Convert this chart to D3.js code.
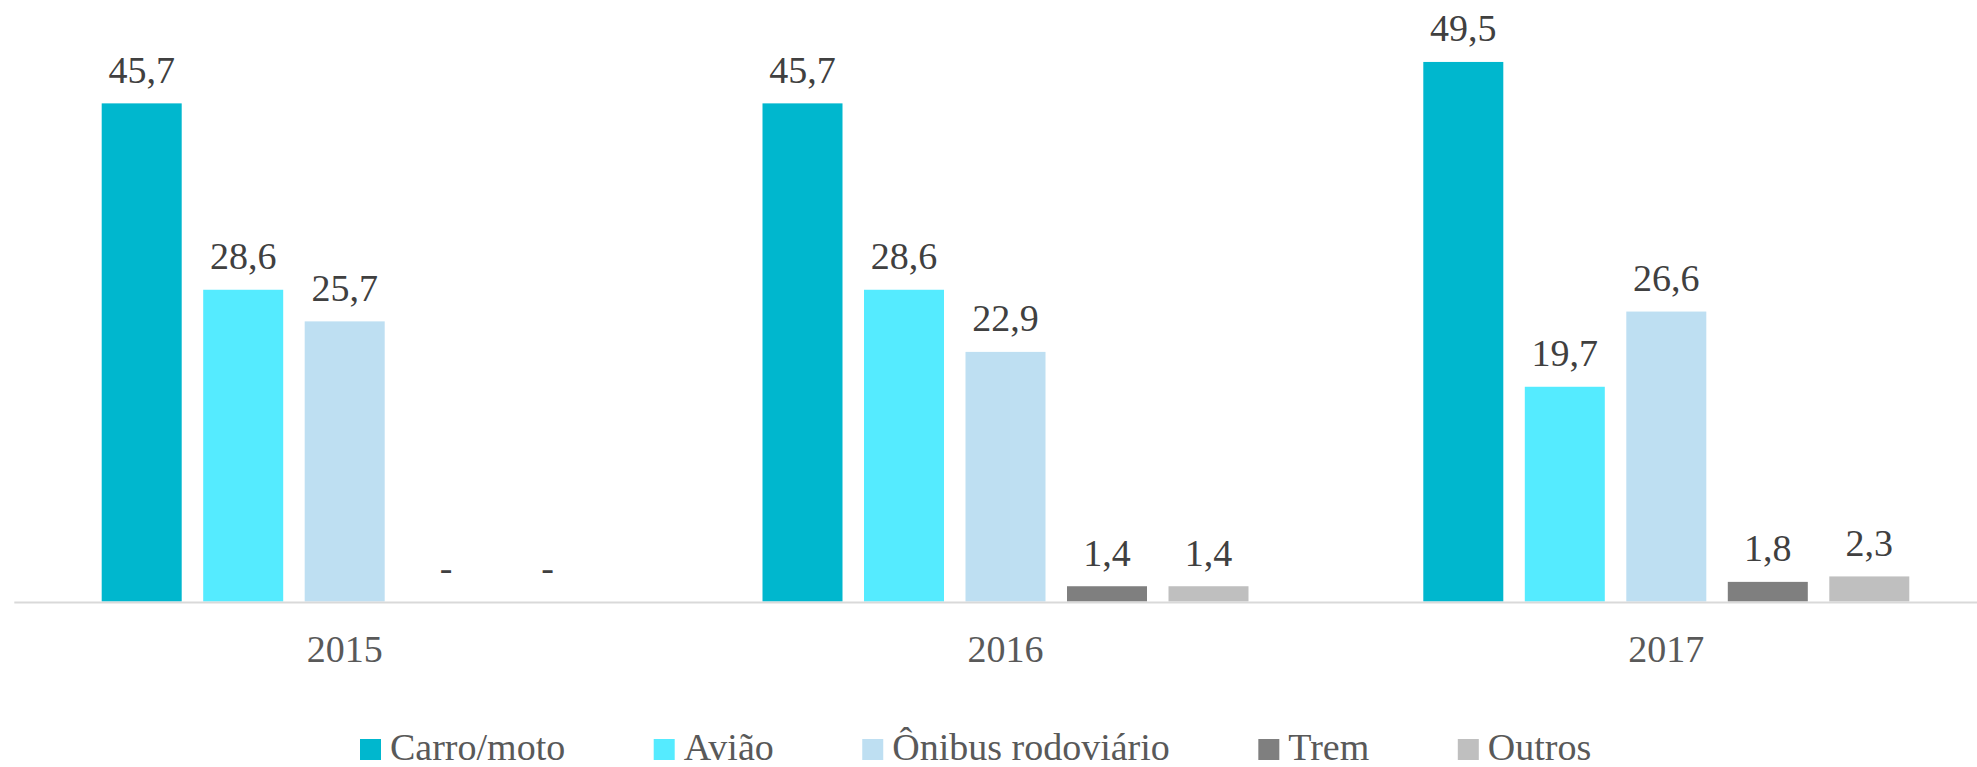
<!DOCTYPE html>
<html>
<head>
<meta charset="utf-8">
<script src="https://cdn.jsdelivr.net/npm/d3@7"></script>
<style>
  html, body { margin: 0; padding: 0; background: #ffffff; }
  svg { display: block; }
</style>
</head>
<body>
<svg id="chart" width="1977" height="767"></svg>
<script>
const categories = ["2015", "2016", "2017"];
const seriesNames = ["Carro/moto", "Avião", "Ônibus rodoviário", "Trem", "Outros"];
const carroMoto = [45.7, 45.7, 49.5];
const aviao = [28.6, 28.6, 19.7];
const onibus = [25.7, 22.9, 26.6];
const trem = [0, 1.4, 1.8];
const outros = [0, 1.4, 2.3];
const seriesColors = ["#00B7CE", "#55EBFF", "#BEDFF2", "#7F7F7F", "#BFBFBF"];

const seriesValues = [carroMoto, aviao, onibus, trem, outros];
const data = categories.map((c, i) => ({
  category: c,
  values: seriesNames.map((s, j) => ({ series: s, value: seriesValues[j][i], color: seriesColors[j] }))
}));

const svg = d3.select("#chart");
const W = 1977, H = 767;
const baseline = 601.5;
const FONT = "'Liberation Serif', 'Times New Roman', serif";

const x0 = d3.scaleBand().domain(categories).range([14.3, 1996.7]).padding(0);
const groupW = 486;
const inset = (x0.bandwidth() - groupW) / 2;
const x1 = d3.scaleBand().domain(seriesNames)
  .range([inset, inset + groupW]).paddingInner(21.5 / 101.5).paddingOuter(0);
const y = d3.scaleLinear().domain([0, 50]).range([baseline, baseline - 50 * 10.9]);

// bars
const groups = svg.append("g").selectAll("g").data(data).join("g")
  .attr("transform", d => `translate(${x0(d.category)},0)`);

groups.selectAll("rect").data(d => d.values.filter(v => v.value > 0)).join("rect")
  .attr("x", v => x1(v.series))
  .attr("width", x1.bandwidth())
  .attr("y", v => y(v.value))
  .attr("height", v => y(0) - y(v.value))
  .attr("fill", v => v.color);

// value labels
groups.selectAll("text").data(d => d.values).join("text")
  .attr("x", v => x1(v.series) + x1.bandwidth() / 2)
  .attr("y", v => y(v.value) - 20.5)
  .attr("text-anchor", "middle")
  .attr("font-family", FONT)
  .attr("font-size", 38)
  .attr("fill", "#404040")
  .text(v => v.value > 0 ? d3.format(".1f")(v.value).replace(".", ",") : "-");

// x axis
const xAxis = d3.axisBottom(x0).tickSize(0).tickPadding(0);
const axisG = svg.append("g").attr("transform", `translate(0,${baseline + 1})`).call(xAxis);
axisG.select(".domain").remove();
axisG.append("line")
  .attr("x1", 14.3).attr("x2", W)
  .attr("y1", 0).attr("y2", 0)
  .attr("stroke", "#D9D9D9").attr("stroke-width", 2);
axisG.selectAll(".tick text")
  .attr("dy", 0)
  .attr("y", 59.2)
  .attr("font-family", FONT)
  .attr("font-size", 38)
  .attr("fill", "#595959");

// legend
const legend = svg.append("g").attr("transform", "translate(0,760)");
let lx = 360;
seriesNames.forEach((s, i) => {
  const g = legend.append("g").attr("transform", `translate(${lx},0)`);
  g.append("rect").attr("x", 0).attr("y", -21).attr("width", 21).attr("height", 21)
    .attr("fill", seriesColors[i]);
  const t = g.append("text").attr("x", 30).attr("y", 0)
    .attr("font-family", FONT).attr("font-size", 38).attr("fill", "#595959")
    .text(s);
  const tw = t.node().getComputedTextLength();
  lx += 30 + tw + 88.5;
});
</script>
</body>
</html>
